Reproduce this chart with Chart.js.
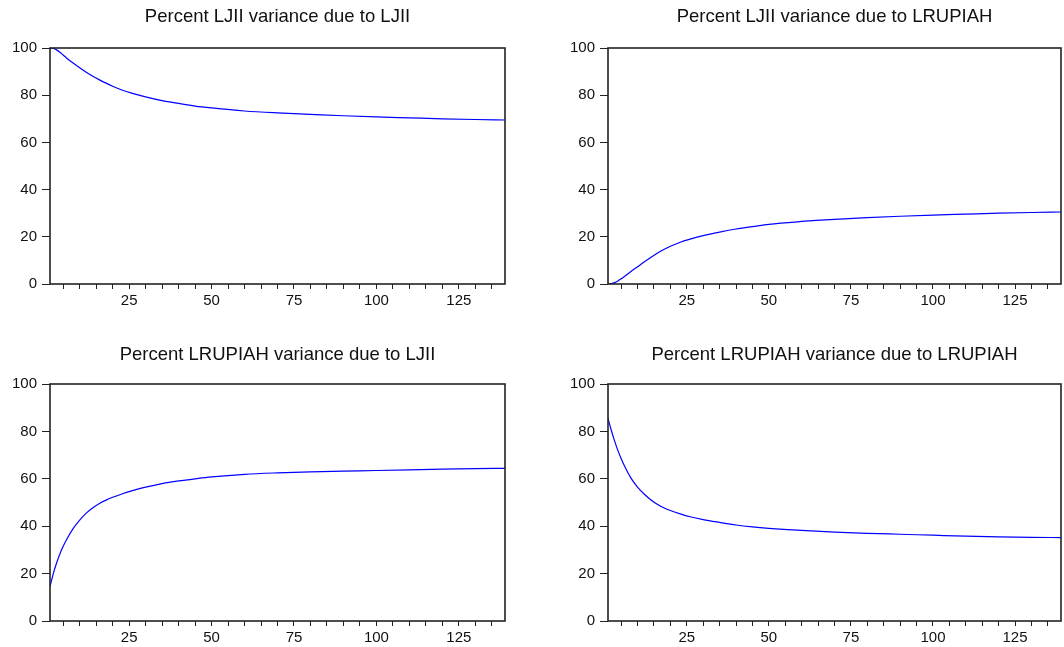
<!DOCTYPE html>
<html>
<head>
<meta charset="utf-8">
<script src="https://cdn.jsdelivr.net/npm/chart.js@4.4.1/dist/chart.umd.min.js"></script>
<style>
  body { margin: 0; background: #fff; width: 1064px; height: 647px; overflow: hidden; position: relative; }
  canvas { position: absolute; }
</style>
</head>
<body>
<canvas id="c1" width="532" height="320" style="left:0;top:0"></canvas>
<canvas id="c2" width="532" height="320" style="left:532px;top:0"></canvas>
<canvas id="c3" width="532" height="327" style="left:0;top:320px"></canvas>
<canvas id="c4" width="532" height="327" style="left:532px;top:320px"></canvas>
<script>
const periods = [1, 2, 3, 4, 5, 6, 8, 10, 12, 14, 16, 18, 20, 23, 26, 30, 35, 40, 45, 50, 60, 70, 80, 90, 100, 110, 120, 130, 139];

const ljiiDueLjii = [100, 99.8, 99.2, 98.2, 97.0, 95.8, 93.6, 91.6, 89.7, 88.0, 86.5, 85.1, 83.8, 82.1, 80.8, 79.3, 77.7, 76.5, 75.4, 74.6, 73.3, 72.5, 71.9, 71.3, 70.8, 70.4, 70.0, 69.7, 69.5];
const ljiiDueRupiah = [0, 0.2, 0.6, 1.3, 2.2, 3.2, 5.3, 7.3, 9.3, 11.2, 13.0, 14.6, 16.0, 17.7, 19.0, 20.5, 22.0, 23.3, 24.3, 25.3, 26.5, 27.4, 28.1, 28.7, 29.2, 29.6, 30.0, 30.3, 30.5];
const rupiahDueLjii = [14.5, 20.0, 24.5, 28.3, 31.5, 34.3, 39.0, 42.6, 45.5, 47.8, 49.6, 51.0, 52.2, 53.7, 55.0, 56.5, 58.0, 59.1, 60.0, 60.8, 61.9, 62.5, 62.9, 63.2, 63.5, 63.8, 64.1, 64.3, 64.4];
const rupiahDueRupiah = [85.5, 80.5, 76.0, 72.0, 68.6, 65.5, 60.3, 56.5, 53.6, 51.2, 49.3, 47.8, 46.6, 45.2, 44.0, 42.8, 41.6, 40.5, 39.7, 39.1, 38.2, 37.5, 37.0, 36.6, 36.2, 35.8, 35.5, 35.3, 35.2];

const titles = [
  "Percent LJII variance due to LJII",
  "Percent LJII variance due to LRUPIAH",
  "Percent LRUPIAH variance due to LJII",
  "Percent LRUPIAH variance due to LRUPIAH"
];

const xLabelTicks = [25, 50, 75, 100, 125];
const yTicks = [0, 20, 40, 60, 80, 100];
const xMin = 1, xMax = 139, xMinorStep = 5;

const FONT = "'Liberation Sans', Arial, sans-serif";
const INK = "#222";

// frame + title drawn on top of the plot
const framePlugin = {
  id: "frame",
  afterDraw(chart, args, opts) {
    const { ctx, chartArea: a } = chart;
    ctx.save();
    ctx.strokeStyle = INK;
    ctx.lineWidth = 1.6;
    ctx.strokeRect(a.left, a.top, a.right - a.left, a.bottom - a.top);
    ctx.fillStyle = "#111";
    ctx.font = "18.5px " + FONT;
    ctx.textAlign = "center";
    ctx.textBaseline = "middle";
    ctx.fillText(opts.text, (a.left + a.right) / 2, opts.titleY);
    ctx.restore();
  }
};

function makeChart(id, values, title, layout) {
  const ctx = document.getElementById(id).getContext("2d");
  return new Chart(ctx, {
    type: "line",
    data: {
      datasets: [{
        data: periods.map((p, i) => ({ x: p, y: values[i] })),
        borderColor: "#0000ff",
        borderWidth: 1.2,
        pointRadius: 0,
        cubicInterpolationMode: "monotone",
        fill: false
      }]
    },
    options: {
      responsive: false,
      animation: false,
      devicePixelRatio: 1,
      layout: { padding: { top: layout.top, right: layout.right, left: 0, bottom: 0 } },
      plugins: {
        legend: { display: false },
        tooltip: { enabled: false },
        frame: { text: title, titleY: layout.titleY }
      },
      scales: {
        x: {
          type: "linear",
          min: xMin,
          max: xMax,
          afterBuildTicks(scale) {
            const t = [];
            for (let v = xMinorStep; v < xMax; v += xMinorStep) t.push({ value: v });
            scale.ticks = t;
          },
          afterFit(scale) { scale.height = layout.xHeight; },
          grid: { drawOnChartArea: false, drawTicks: true, tickLength: 5, color: INK, lineWidth: 1 },
          border: { display: false },
          ticks: {
            autoSkip: false,
            maxRotation: 0,
            padding: 3,
            color: "#111",
            font: { family: FONT, size: 15 },
            callback: v => xLabelTicks.includes(v) ? String(v) : ""
          }
        },
        y: {
          min: 0,
          max: 100,
          afterBuildTicks(scale) { scale.ticks = yTicks.map(v => ({ value: v })); },
          afterFit(scale) { scale.width = layout.yWidth; },
          grid: { drawOnChartArea: false, drawTicks: true, tickLength: 8, color: INK, lineWidth: 1 },
          border: { display: false },
          ticks: {
            padding: 5,
            color: "#111",
            font: { family: FONT, size: 15 }
          }
        }
      }
    },
    plugins: [framePlugin]
  });
}

makeChart("c1", ljiiDueLjii, titles[0], { top: 48, right: 27, yWidth: 50, xHeight: 36, titleY: 17 });
makeChart("c2", ljiiDueRupiah, titles[1], { top: 48, right: 3, yWidth: 76, xHeight: 36, titleY: 17 });
makeChart("c3", rupiahDueLjii, titles[2], { top: 64, right: 27, yWidth: 50, xHeight: 26, titleY: 35 });
makeChart("c4", rupiahDueRupiah, titles[3], { top: 64, right: 3, yWidth: 76, xHeight: 26, titleY: 35 });
</script>
</body>
</html>
